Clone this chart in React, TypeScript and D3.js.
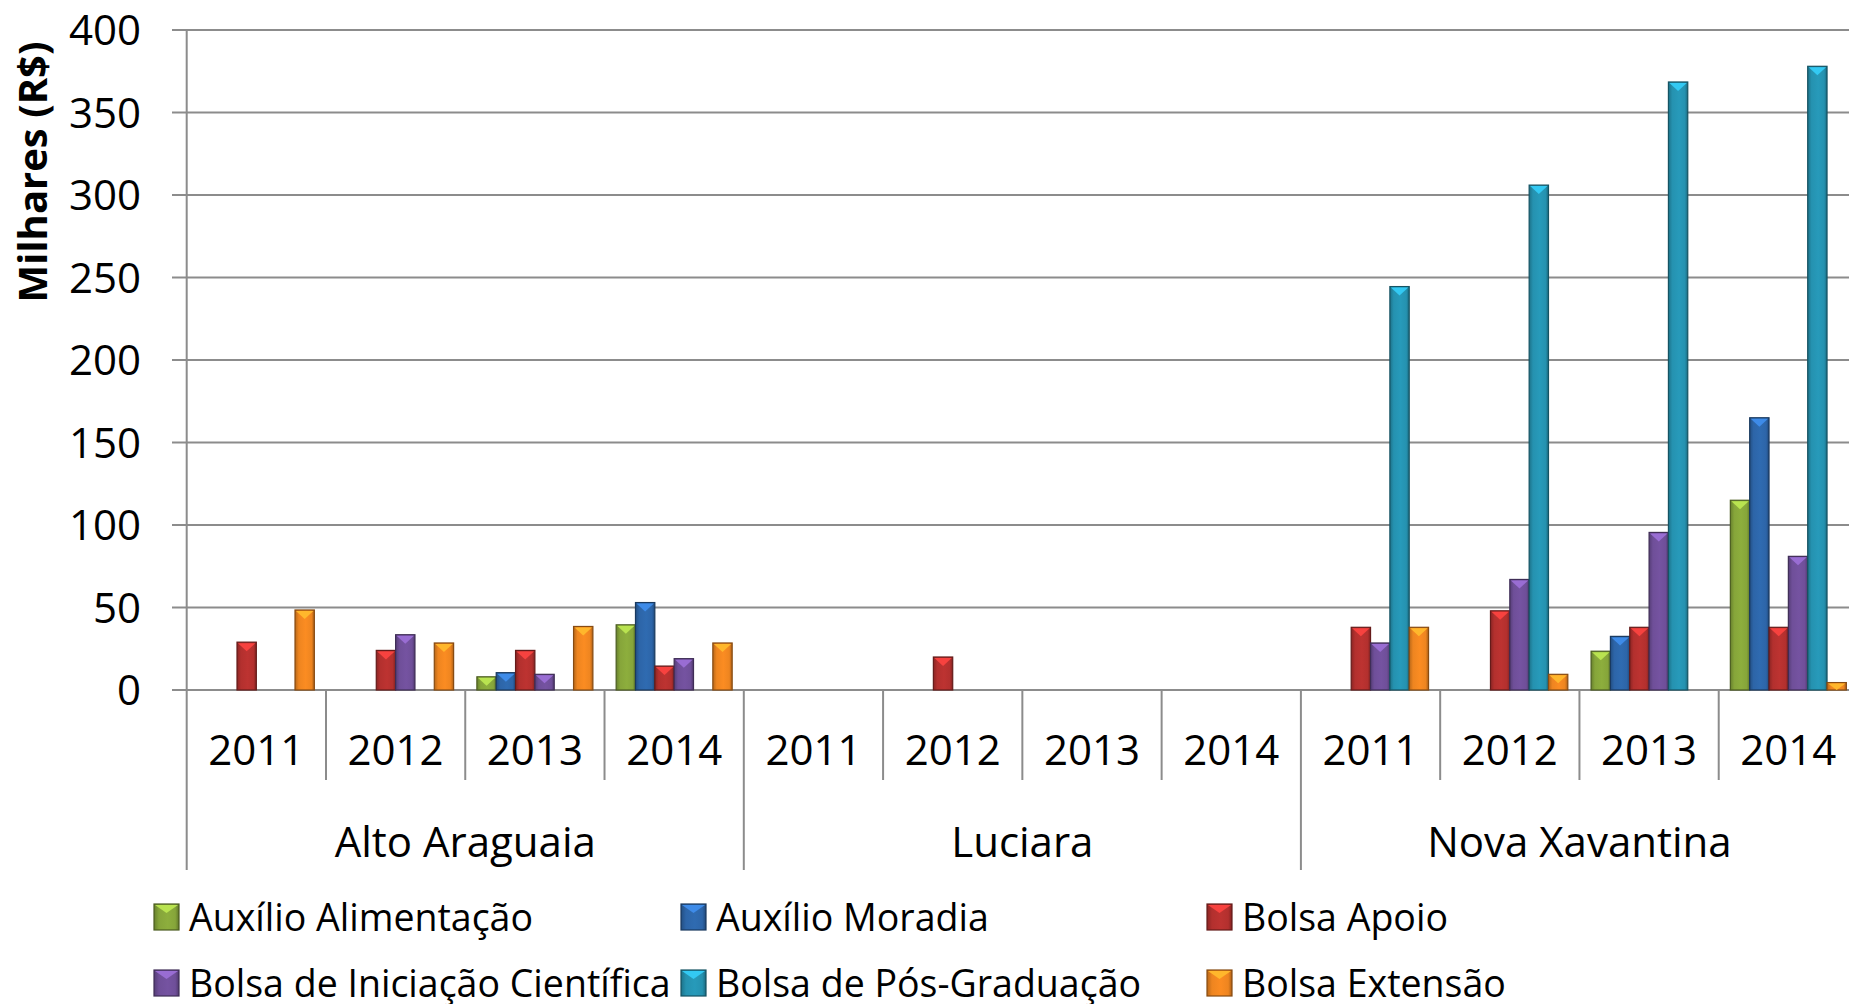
import React from 'react';
import * as d3 from 'd3';

const groups = ['Alto Araguaia', 'Luciara', 'Nova Xavantina'];
const years = ['2011', '2012', '2013', '2014'];
const seriesNames = [
  'Auxílio Alimentação',
  'Auxílio Moradia',
  'Bolsa Apoio',
  'Bolsa de Iniciação Científica',
  'Bolsa de Pós-Graduação',
  'Bolsa Extensão',
];
const seriesColors = ['#86A53A', '#2D65A8', '#B3302E', '#6F4F99', '#2592B0', '#EE8520'];

// values per series, in order: Alto Araguaia 2011-2014, Luciara 2011-2014, Nova Xavantina 2011-2014
const auxAlimentacao = [0, 0, 8, 39.5, 0, 0, 0, 0, 0, 0, 23.5, 115];
const auxMoradia = [0, 0, 10.5, 53, 0, 0, 0, 0, 0, 0, 32.5, 165];
const bolsaApoio = [29, 24, 24, 14.5, 0, 20, 0, 0, 38, 48, 38, 38];
const bolsaIniciacao = [0, 33.5, 9.5, 19, 0, 0, 0, 0, 28.5, 67, 95.5, 81];
const bolsaPosGrad = [0, 0, 0, 0, 0, 0, 0, 0, 244.5, 306, 368.5, 378];
const bolsaExtensao = [48.5, 28.5, 38.5, 28.5, 0, 0, 0, 0, 38, 9.5, 0, 4.5];
const seriesValues = [auxAlimentacao, auxMoradia, bolsaApoio, bolsaIniciacao, bolsaPosGrad, bolsaExtensao];
const yTicks = [0, 50, 100, 150, 200, 250, 300, 350, 400];

const W = 1849;
const H = 1004;
const left = 186.7;
const right = 1858;
const top = 30;
const bottom = 690;
const font = '"Open Sans", sans-serif';

const categories = groups.flatMap(g => years.map(y => `${g}|${y}`));

const Bar = ({ x, y, w, h, i }: { x: number; y: number; w: number; h: number; i: number }) => {
  const c = d3.color(seriesColors[i])!;
  const tip = Math.min(9, h);
  return (
    <g>
      <rect x={x} y={y} width={w} height={h} fill={`url(#grad${i})`} stroke={c.darker(1.6).formatHex()} strokeWidth={1.2} />
      <polygon
        points={`${x + 1},${y + 1} ${x + w - 1},${y + 1} ${x + w / 2},${y + tip}`}
        fill={c.brighter(0.9).formatHex()}
      />
    </g>
  );
};

const App = () => {
  const x0 = d3.scaleBand().domain(categories).range([left, right]).paddingInner(0.167).paddingOuter(0.0835);
  const x1 = d3.scaleBand().domain(seriesNames).range([0, x0.bandwidth()]);
  const y = d3.scaleLinear().domain([0, 400]).range([bottom, top]);
  const step = x0.step();
  const catStart = (k: number) => left + k * step;

  const legendCols = [154, 681, 1207];
  const legendRows = [917, 983];

  return (
    <svg width={W} height={H} style={{ position: 'absolute', left: 0, top: 0, background: '#fff' }}>
      <defs>
        {seriesColors.map((col, i) => {
          const c = d3.color(col)!;
          return (
            <linearGradient key={i} id={`grad${i}`} x1="0" x2="1" y1="0" y2="0">
              <stop offset="0" stopColor={c.darker(0.7).formatHex()} />
              <stop offset="0.2" stopColor={col} />
              <stop offset="0.55" stopColor={c.brighter(0.15).formatHex()} />
              <stop offset="0.85" stopColor={col} />
              <stop offset="1" stopColor={c.darker(0.9).formatHex()} />
            </linearGradient>
          );
        })}
      </defs>

      {/* gridlines and y ticks */}
      {yTicks.map(t => (
        <g key={t}>
          <line x1={172} x2={W} y1={y(t)} y2={y(t)} stroke="#8c8c8c" strokeWidth={2} />
          <text x={141} y={y(t)} dy="0.36em" textAnchor="end" fontFamily={font} fontSize={42} fill="#000">
            {t}
          </text>
        </g>
      ))}

      {/* y axis line */}
      <line x1={left} x2={left} y1={top} y2={870} stroke="#8c8c8c" strokeWidth={2} />

      {/* category separators */}
      {d3.range(1, categories.length + 1).map(k => (
        <line
          key={k}
          x1={catStart(k)}
          x2={catStart(k)}
          y1={bottom}
          y2={k % years.length === 0 ? 870 : 780}
          stroke="#8c8c8c"
          strokeWidth={2}
        />
      ))}

      {/* bars */}
      {categories.map((cat, k) =>
        seriesValues.map((vals, i) => {
          const v = vals[k];
          if (!v) return null;
          const bx = x0(cat)! + x1(seriesNames[i])!;
          return <Bar key={`${k}-${i}`} x={bx} y={y(v)} w={x1.bandwidth()} h={y(0) - y(v)} i={i} />;
        })
      )}

      {/* year labels */}
      {categories.map(cat => (
        <text
          key={cat}
          x={x0(cat)! + x0.bandwidth() / 2}
          y={750}
          dy="0.36em"
          textAnchor="middle"
          fontFamily={font}
          fontSize={42}
        >
          {cat.split('|')[1]}
        </text>
      ))}

      {/* group labels */}
      {groups.map((g, gi) => (
        <text
          key={g}
          x={catStart(gi * years.length) + (step * years.length) / 2}
          y={842}
          dy="0.36em"
          textAnchor="middle"
          fontFamily={font}
          fontSize={42}
        >
          {g}
        </text>
      ))}

      {/* y axis title */}
      <text
        transform={`translate(33,172) rotate(-90)`}
        textAnchor="middle"
        dy="0.36em"
        fontFamily={font}
        fontWeight="bold"
        fontSize={40}
      >
        Milhares (R$)
      </text>

      {/* legend */}
      {seriesNames.map((name, i) => {
        const lx = legendCols[i % 3];
        const ly = legendRows[Math.floor(i / 3)];
        return (
          <g key={name}>
            <Bar x={lx} y={ly - 13} w={25} h={26} i={i} />
            <text x={lx + 35} y={ly} dy="0.36em" fontFamily={font} fontSize={37.5}>
              {name}
            </text>
          </g>
        );
      })}
    </svg>
  );
};

export default App;
